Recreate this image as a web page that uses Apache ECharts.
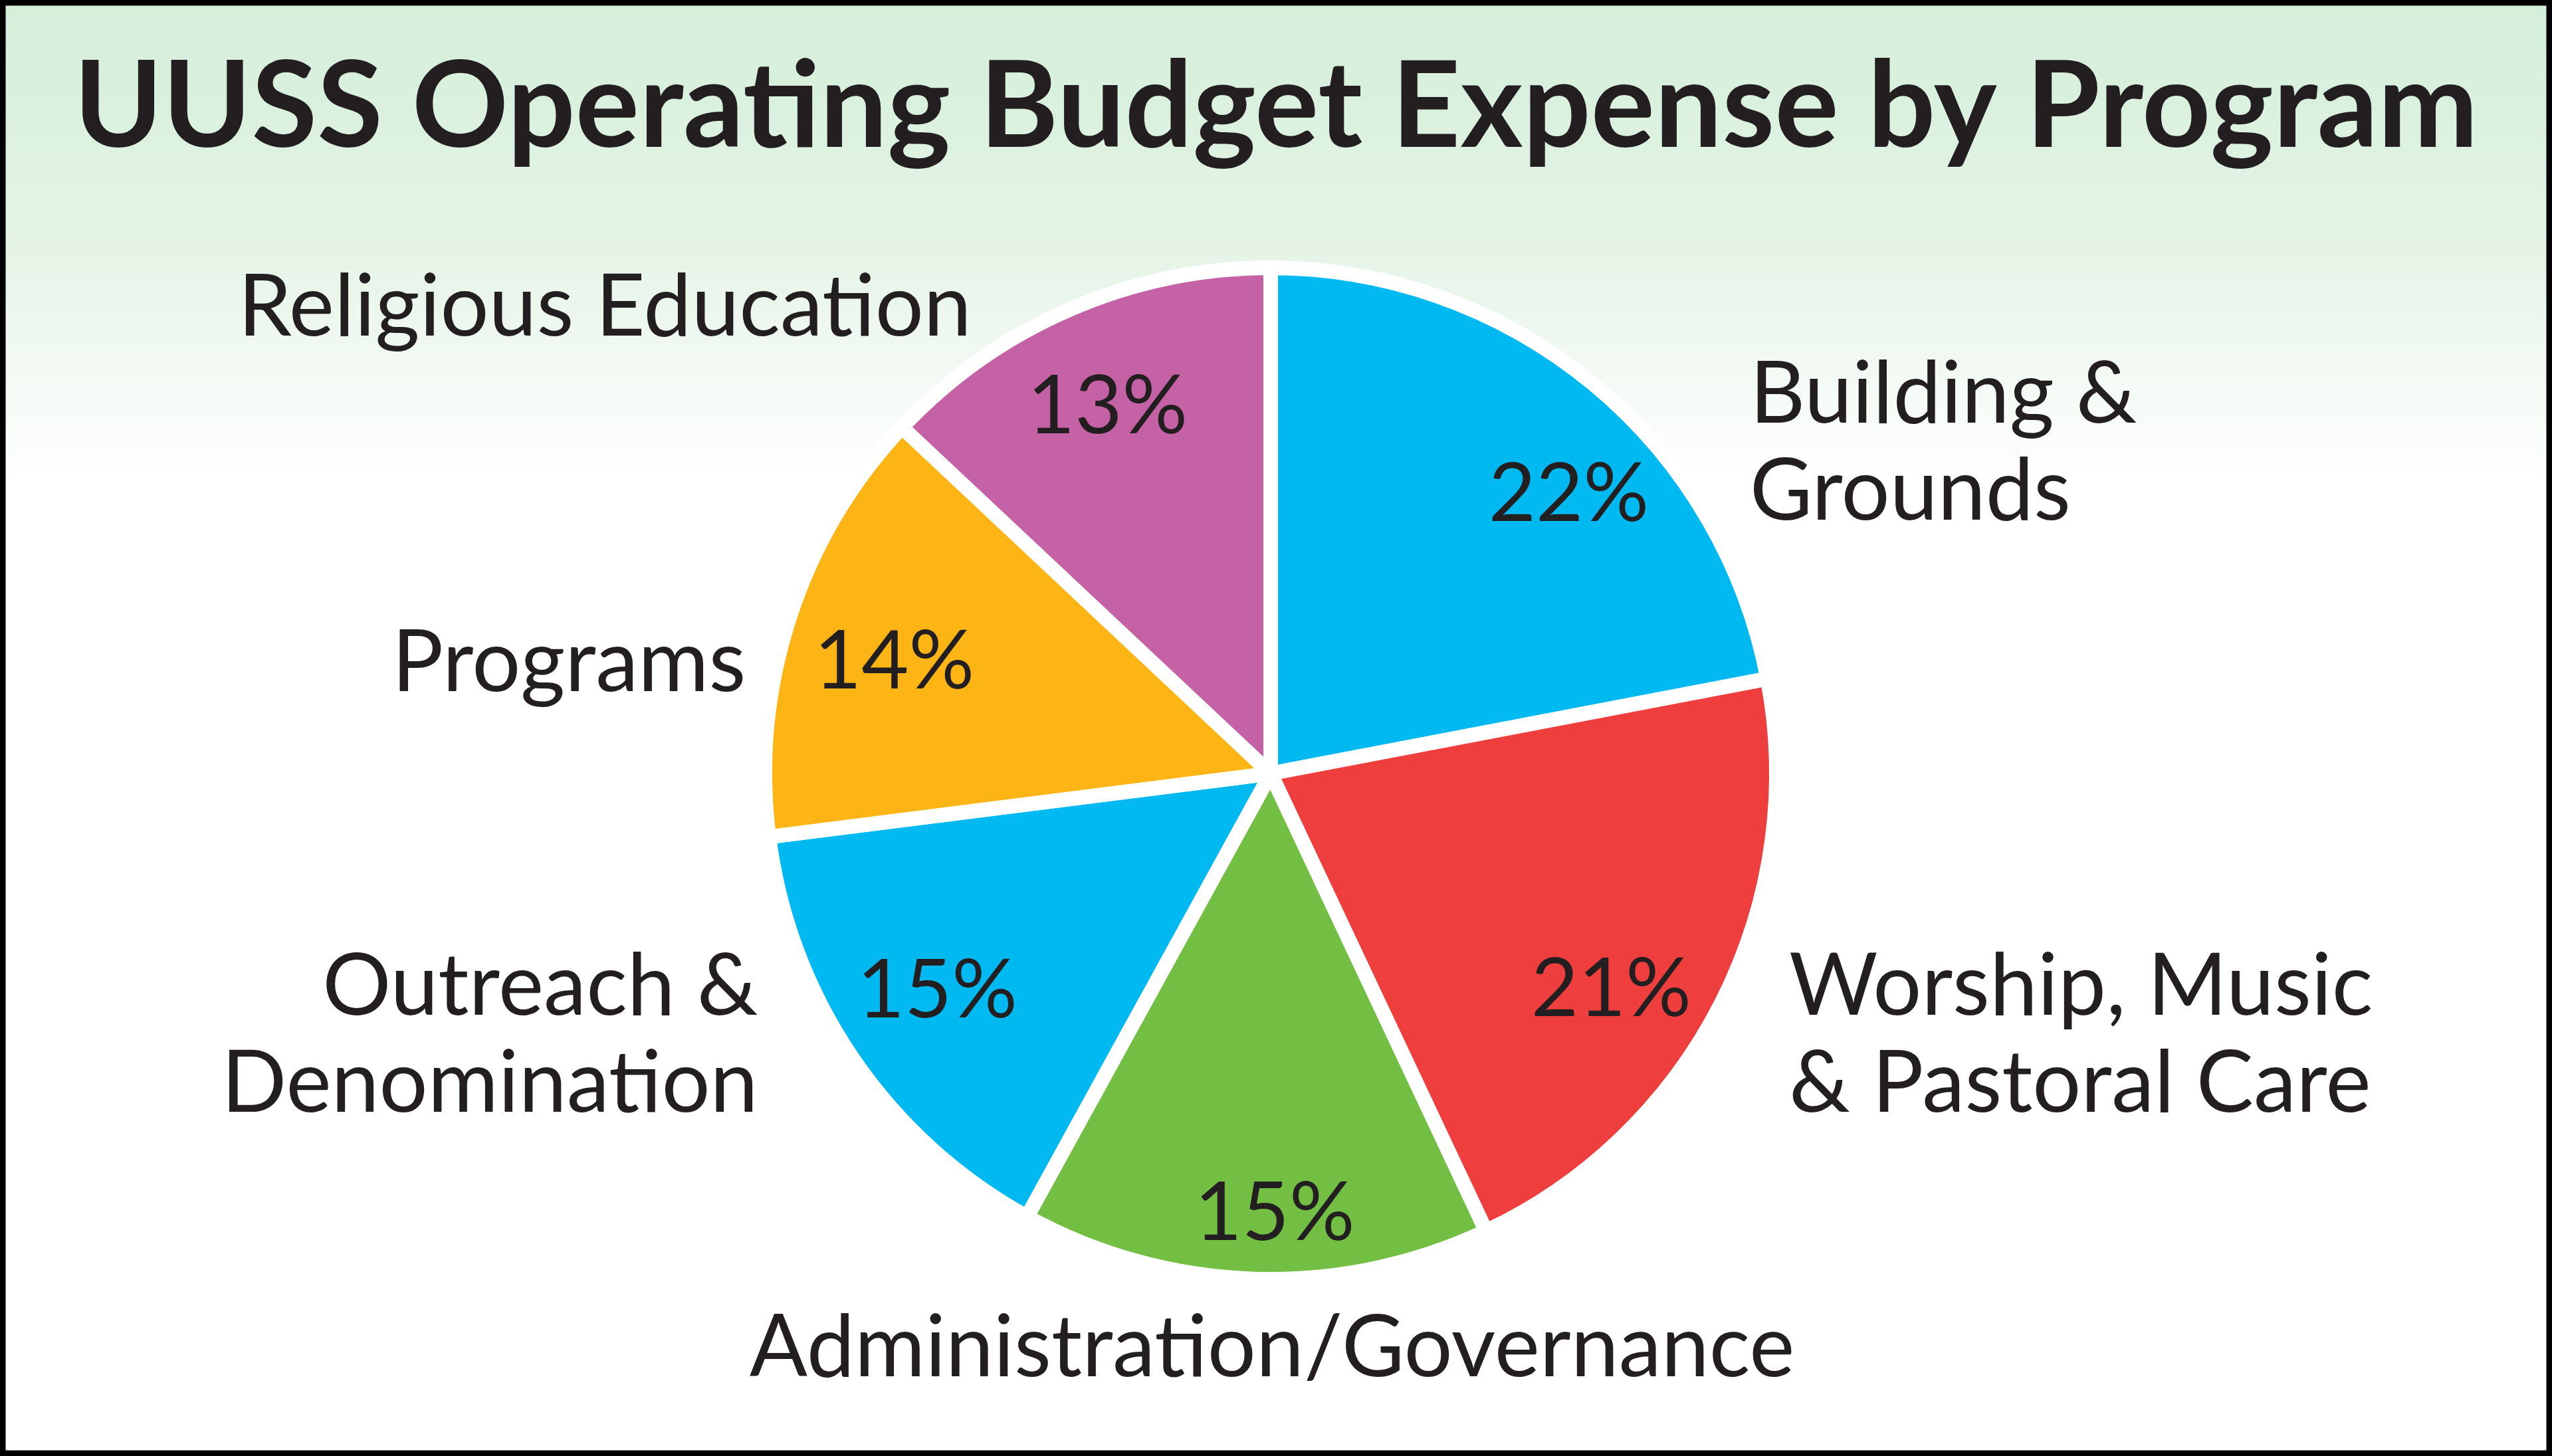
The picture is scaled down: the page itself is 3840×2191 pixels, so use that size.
<!DOCTYPE html>
<html>
<head>
<meta charset="utf-8">
<title>UUSS Operating Budget Expense by Program</title>
<script src="https://cdn.jsdelivr.net/npm/echarts@6/dist/echarts.min.js"></script>
<style>
    html, body { margin: 0; padding: 0; background: #fff; }
    #chart { width: 3840px; height: 2191px; }
</style>
</head>
<body>
<div id="chart"></div>
<script>
// programs, clockwise from 12 o'clock
var categories = ['Building &\nGrounds', 'Worship, Music\n& Pastoral Care', 'Administration/Governance',
    'Outreach &\nDenomination', 'Programs', 'Religious Education'];
var shares = [22, 21, 15, 15, 14, 13];

var sliceColors = ['#00b9f1', '#ef3e3e', '#72bf44', '#00b9f1', '#fdb515', '#c561a5'];
var inkColor = '#231f20';

// nudges of the text away from where echarts puts it by default
var nameShift = [[236, 90, 'left'], [102, 49, 'left'], [26, 105, 'center'],
    [-142, -33, 'right'], [-66, 70, 'right'], [-148, -2, 'right']];
var pctShift = [[64, 45], [-25, 52], [25, 60], [-3, -12], [7, 19], [-6, 2]];

function handle() {
    var pieData = categories.map(function (name, i) {
        return { name: name, value: shares[i], itemStyle: { color: sliceColors[i] } };
    });

    var option = {
        animation: false,
        graphic: [{
            type: 'rect',
            z: -10,
            silent: true,
            shape: { x: 4, y: 4, width: 3832, height: 2183 },
            style: {
                fill: {
                    type: 'linear', x: 0, y: 0, x2: 0, y2: 1,
                    colorStops: [
                        { offset: 0, color: '#d3eed9' },
                        { offset: 0.17, color: '#e5f4e7' },
                        { offset: 0.33, color: '#ffffff' },
                        { offset: 1, color: '#ffffff' }
                    ]
                },
                stroke: '#000',
                lineWidth: 9
            }
        }],
        title: {
            text: 'UUSS Operating Budget Expense by Program',
            left: 'center',
            top: 68,
            padding: [5, 0, 5, 54],
            textStyle: {
                fontFamily: 'Lato',
                fontWeight: 'bold',
                fontSize: 180,
                color: inkColor
            }
        },
        series: [{
            type: 'pie',
            center: [1912, 1164],
            radius: 761,
            startAngle: 90,
            clockwise: true,
            avoidLabelOverlap: false,
            silent: true,
            data: pieData,
            itemStyle: { borderColor: '#ffffff', borderWidth: 22 },
            label: {
                show: true,
                position: 'outside',
                formatter: '{b}',
                distanceToLabelLine: 0,
                fontFamily: 'Lato',
                fontSize: 129,
                lineHeight: 146,
                color: inkColor
            },
            labelLine: { show: false, length: 0, length2: 0 },
            labelLayout: function (p) {
                var s = nameShift[p.dataIndex];
                return { dx: s[0], dy: s[1], align: s[2] };
            }
        }, {
            type: 'pie',
            center: [1912, 1164],
            radius: [439, 761],
            startAngle: 90,
            clockwise: true,
            silent: true,
            data: categories.map(function (name, i) {
                return { name: name, value: shares[i] };
            }),
            itemStyle: { color: 'rgba(0,0,0,0)', borderWidth: 0 },
            label: {
                show: true,
                position: 'inside',
                formatter: '{c}%',
                fontFamily: 'Lato',
                fontSize: 123,
                color: inkColor
            },
            labelLine: { show: false },
            labelLayout: function (p) {
                var s = pctShift[p.dataIndex];
                return { dx: s[0], dy: s[1] };
            }
        }]
    };

    var myChart = echarts.init(document.getElementById('chart'));
    myChart.setOption(option);
}

handle();
</script>
</body>
</html>
